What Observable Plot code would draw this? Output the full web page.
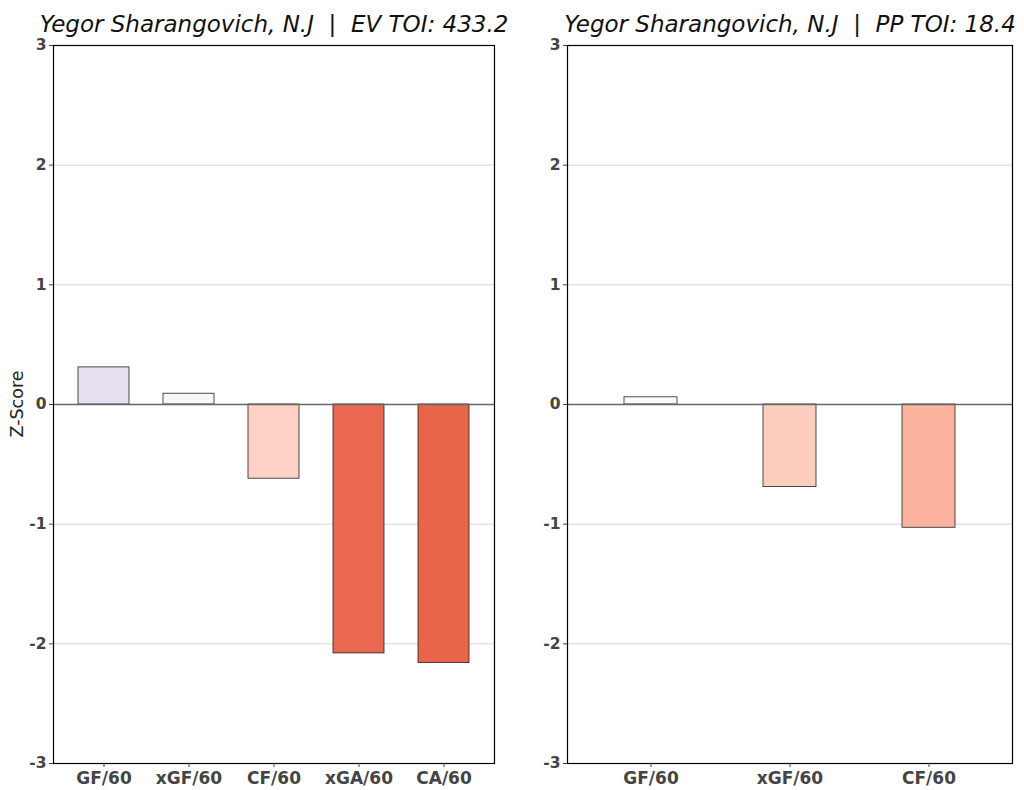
<!DOCTYPE html>
<html>
<head>
<meta charset="utf-8">
<script src="https://cdn.jsdelivr.net/npm/d3@7"></script>
<script src="https://cdn.jsdelivr.net/npm/@observablehq/plot@0.6"></script>
<style>
  html, body { margin: 0; padding: 0; background: #fff; }
  #wrap { position: relative; width: 1024px; height: 790px; font-family: "DejaVu Sans", sans-serif; background: #fff; }
  .panel { position: absolute; top: 0; }
  #ylabel { position: absolute; left: 17px; top: 404px; transform: translate(-50%, -50%) rotate(-90deg); font-size: 17.5px; color: #222; white-space: nowrap; }
</style>
</head>
<body>
<div id="wrap">
  <div id="left" class="panel" style="left:0px; z-index:2"></div>
  <div id="right" class="panel" style="left:504px; z-index:1"></div>
  <div id="ylabel">Z-Score</div>
</div>
<script>
const evTitle = "Yegor Sharangovich, N.J  |  EV TOI: 433.2";
const ppTitle = "Yegor Sharangovich, N.J  |  PP TOI: 18.4";
const evCategories = ["GF/60", "xGF/60", "CF/60", "xGA/60", "CA/60"];
const evValues = [0.31, 0.09, -0.62, -2.08, -2.16];
const evColors = ["#e6e0f1", "#f7f6f9", "#fdd1c5", "#ea6850", "#e8654a"];
const ppCategories = ["GF/60", "xGF/60", "CF/60"];
const ppValues = [0.06, -0.69, -1.03];
const ppColors = ["#fbfbfd", "#fdcdc0", "#fcb4a1"];
const yTicks = [-3, -2, -1, 0, 1, 2, 3];

function panel(title, cats, vals, colors, opts) {
  const data = cats.map((c, i) => ({cat: c, value: vals[i]}));
  return Plot.plot({
    width: 520,
    height: 790,
    marginTop: 45,
    marginBottom: 27,
    marginLeft: opts.marginLeft,
    marginRight: opts.marginRight,
    style: {fontFamily: "DejaVu Sans, sans-serif", background: "transparent", overflow: "visible"},
    x: {domain: cats, paddingInner: opts.pi, paddingOuter: opts.po, label: null},
    y: {domain: [-3, 3], label: null},
    color: {domain: cats, range: colors},
    marks: [
      Plot.gridY(yTicks.filter(d => d !== 0 && Math.abs(d) !== 3), {stroke: "#d6d6d6", strokeOpacity: 1, strokeWidth: 1}),
      Plot.barY(data, {x: "cat", y: "value", fill: "cat", stroke: "#222", strokeWidth: 0.8}),
      Plot.ruleY([0], {stroke: "#666", strokeWidth: 1.3}),
      Plot.frame({stroke: "#000", strokeWidth: 1.2}),
      Plot.axisY({ticks: yTicks, tickFormat: d => String(d), tickSize: 4, tickPadding: 3, fontSize: 15.5, fontWeight: "bold", color: "#444", label: null}),
      Plot.axisX({tickSize: 4, tickPadding: 4, fontSize: 17, fontWeight: "bold", color: "#444", label: null}),
      Plot.text([title], {frameAnchor: "top", dy: -13.5, lineAnchor: "bottom", fontSize: 23, fontStyle: "italic", fill: "#111"})
    ]
  });
}

document.getElementById("left").appendChild(
  panel(evTitle, evCategories, evValues, evColors, {marginLeft: 53, marginRight: 26, pi: 0.4, po: 0.294})
);
document.getElementById("right").appendChild(
  panel(ppTitle, ppCategories, ppValues, ppColors, {marginLeft: 63, marginRight: 12, pi: 0.62, po: 0.405})
);
</script>
</body>
</html>
